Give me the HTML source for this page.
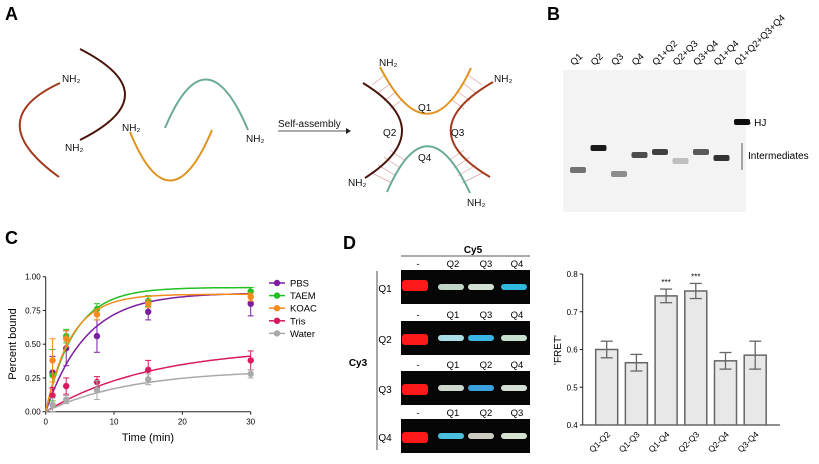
<!DOCTYPE html>
<html><head><meta charset="utf-8">
<style>
body{margin:0;background:#fff;}
svg{display:block;font-family:"Liberation Sans",Arial,sans-serif;}
</style></head>
<body>
<svg id="fig" width="819" height="464" viewBox="0 0 819 464">
<!-- Panel A -->
<g>
<text x="5" y="20" font-size="18" font-weight="bold">A</text>
<path d="M59 177 Q-20 120 60 83" fill="none" stroke="#a3391b" stroke-width="2"/>
<path d="M80 49 Q170 95 80 140" fill="none" stroke="#4a140a" stroke-width="2"/>
<path d="M130 132 Q170 230 212 130" fill="none" stroke="#e0921e" stroke-width="2"/>
<path d="M165 128 Q206 30 248 130" fill="none" stroke="#6aab98" stroke-width="2"/>
<g font-size="10" fill="#111">
<text x="62" y="82">NH₂</text><text x="65" y="151">NH₂</text><text x="122" y="131">NH₂</text><text x="246" y="142">NH₂</text>
<text x="278" y="127" font-size="10">Self-assembly</text>
</g>
<line x1="278" y1="131" x2="346" y2="131" stroke="#222" stroke-width="0.8"/>
<path d="M346 128 L351 131 L346 134 Z" fill="#222"/>
<g stroke="#d9a0a0" stroke-width="0.7">
<line x1="372" y1="85" x2="385" y2="75"/><line x1="378" y1="93" x2="391" y2="83"/><line x1="384" y1="101" x2="397" y2="91"/><line x1="390" y1="109" x2="403" y2="99"/>
<line x1="482" y1="85" x2="468" y2="75"/><line x1="476" y1="93" x2="463" y2="83"/><line x1="470" y1="101" x2="457" y2="91"/><line x1="464" y1="109" x2="451" y2="99"/>
<line x1="372" y1="173" x2="392" y2="183"/><line x1="378" y1="165" x2="396" y2="176"/><line x1="384" y1="157" x2="400" y2="168"/><line x1="390" y1="150" x2="404" y2="160"/>
<line x1="482" y1="173" x2="462" y2="183"/><line x1="476" y1="165" x2="458" y2="176"/><line x1="470" y1="157" x2="454" y2="168"/><line x1="464" y1="150" x2="450" y2="160"/>
</g>
<path d="M380 67 Q428 160 471 68" fill="none" stroke="#e0921e" stroke-width="2"/>
<path d="M363 83 Q440 130 365 178" fill="none" stroke="#4a140a" stroke-width="2"/>
<path d="M493 82 Q410 130 490 177" fill="none" stroke="#a3391b" stroke-width="2"/>
<path d="M387 192 Q427 100 470 193" fill="none" stroke="#6aab98" stroke-width="2"/>
<g font-size="10" fill="#111">
<text x="418" y="111">Q1</text><text x="383" y="136">Q2</text><text x="451" y="136">Q3</text><text x="418" y="161">Q4</text>
<text x="379" y="66">NH₂</text><text x="494" y="82">NH₂</text><text x="348" y="186">NH₂</text><text x="467" y="206">NH₂</text>
</g>
</g>
<!-- Panel B -->
<g>
<text x="547" y="20" font-size="18" font-weight="bold">B</text>
<rect x="563" y="70" width="183" height="142" fill="#f3f3f3"/>
<g id="gelB"></g>
<text x="748" y="126" font-size="10">- HJ</text>
<line x1="742" y1="143" x2="742" y2="170" stroke="#333" stroke-width="0.8"/>
<text x="748" y="159" font-size="10">Intermediates</text>
</g>
<!-- Panel C -->
<g>
<text x="5" y="244" font-size="18" font-weight="bold">C</text>
<g id="chartC"></g>
</g>
<!-- Panel D -->
<g>
<text x="343" y="249" font-size="18" font-weight="bold">D</text>
<text x="473" y="253" font-size="10" font-weight="bold" text-anchor="middle">Cy5</text>
<line x1="401" y1="256" x2="530" y2="256" stroke="#222" stroke-width="0.8"/>
<line x1="377" y1="271" x2="377" y2="450" stroke="#222" stroke-width="0.8"/>
<text x="358" y="366" font-size="10" font-weight="bold" text-anchor="middle">Cy3</text>
<g id="gelD"></g>
<g id="chartD"></g>
</g>
</svg>
<script>
const NS="http://www.w3.org/2000/svg";
function mk(tag,attrs,parent,txt){const e=document.createElementNS(NS,tag);for(const k in attrs)e.setAttribute(k,attrs[k]);if(txt!==undefined)e.textContent=txt;parent.appendChild(e);return e;}

// ---- Panel B gel ----
const laneLabels=["Q1","Q2","Q3","Q4","Q1+Q2","Q2+Q3","Q3+Q4","Q1+Q4","Q1+Q2+Q3+Q4"];
const bandY=[170,148,174,155,152,161,152,158,122];
const bandDark=[0.55,0.9,0.45,0.7,0.75,0.25,0.65,0.8,0.95];
const gB=document.getElementById('gelB');
laneLabels.forEach((l,i)=>{
  const cx=578+i*20.5;
  const t=mk('text',{x:cx-4,y:66,'font-size':9.5,transform:`rotate(-45 ${cx-4} 66)`},gB,l);
  
  
  const g=Math.round(255*(1-bandDark[i]));
  const b=mk('rect',{x:cx-8,y:bandY[i]-3,width:16,height:6,rx:2,fill:`rgb(${g},${g},${g})`},gB);
  
  
});

// ---- Panel C ----
const times=[1,3,7.5,15,30];
const seriesNames=["PBS","TAEM","KOAC","Tris","Water"];
const seriesColors=["#7b1fa2","#22c022","#f28c1e","#d81b60","#a9a9a9"];
const pbsVals=[0.29,0.47,0.56,0.74,0.80];
const taemVals=[0.27,0.56,0.76,0.82,0.89];
const koacVals=[0.38,0.54,0.72,0.80,0.85];
const trisVals=[0.12,0.19,0.22,0.31,0.38];
const waterVals=[0.05,0.09,0.16,0.24,0.28];
const pbsErr=[0.12,0.13,0.12,0.06,0.09];
const taemErr=[0.19,0.05,0.04,0.04,0.03];
const koacErr=[0.16,0.06,0.04,0.03,0.03];
const trisErr=[0.06,0.06,0.04,0.07,0.07];
const waterErr=[0.05,0.03,0.07,0.04,0.03];
const fitPlateau=[0.88,0.92,0.87,0.48,0.31];
const fitRate=[0.17,0.24,0.27,0.065,0.08];
const cYTicks=["0.00","0.25","0.50","0.75","1.00"];
const cXTicks=[0,10,20,30];
const vals=[pbsVals,taemVals,koacVals,trisVals,waterVals];
const errs=[pbsErr,taemErr,koacErr,trisErr,waterErr];
const cx0=45.7,cx1=250.7,cy0=411.7,cy1=276.7;
const xC=t=>cx0+(t/30)*(cx1-cx0);
const yC=v=>cy0-(v/1)*(cy0-cy1);
const gC=document.getElementById('chartC');
mk('line',{x1:cx0,y1:cy1,x2:cx0,y2:cy0,stroke:'#222','stroke-width':1},gC);
mk('line',{x1:cx0,y1:cy0,x2:cx1,y2:cy0,stroke:'#222','stroke-width':1},gC);
cYTicks.forEach(s=>{const y=yC(parseFloat(s));mk('line',{x1:cx0-3,y1:y,x2:cx0,y2:y,stroke:'#222'},gC);
  const t=mk('text',{x:cx0-5,y:y+3,'font-size':8,'text-anchor':'end'},gC,s);
  });
cXTicks.forEach(v=>{const x=xC(v);mk('line',{x1:x,y1:cy0,x2:x,y2:cy0+3,stroke:'#222'},gC);
  const t=mk('text',{x:x,y:cy0+13,'font-size':8,'text-anchor':'middle'},gC,v);
  });
const xt=mk('text',{x:148,y:441,'font-size':11,'text-anchor':'middle'},gC,'Time (min)');

const yt=mk('text',{x:16,y:344,'font-size':11,'text-anchor':'middle',transform:'rotate(-90 16 344)'},gC,'Percent bound');

seriesNames.forEach((n,i)=>{
  const c=seriesColors[i];
  let d='';for(let t=0;t<=30;t+=0.25){d+=(t?'L':'M')+xC(t).toFixed(1)+' '+yC(fitPlateau[i]*(1-Math.exp(-fitRate[i]*t))).toFixed(1);}
  const p=mk('path',{d:d,fill:'none',stroke:c,'stroke-width':1.5},gC);
  
  times.forEach((t,j)=>{
    const x=xC(t),v=vals[i][j],e=errs[i][j];
    mk('line',{x1:x,y1:yC(v-e),x2:x,y2:yC(v+e),stroke:c,'stroke-width':1},gC);
    mk('line',{x1:x-3,y1:yC(v-e),x2:x+3,y2:yC(v-e),stroke:c,'stroke-width':1},gC);
    mk('line',{x1:x-3,y1:yC(v+e),x2:x+3,y2:yC(v+e),stroke:c,'stroke-width':1},gC);
    const pt=mk('circle',{cx:x,cy:yC(v),r:3.2,fill:c},gC);
    
  });
  const ly=283+i*12.6;
  const le=mk('g',{},gC);
  
  mk('line',{x1:269,y1:ly,x2:285,y2:ly,stroke:c,'stroke-width':1.5},le);
  mk('circle',{cx:277,cy:ly,r:3.2,fill:c},le);
  mk('text',{x:290,y:ly+3.5,'font-size':9.5},le,n);
});

// ---- Panel D gel ----
const rowLabels=["Q1","Q2","Q3","Q4"];
const colLabels=[["-","Q2","Q3","Q4"],["-","Q1","Q3","Q4"],["-","Q1","Q2","Q4"],["-","Q1","Q2","Q3"]];
const bandColors=[["#ff1a1a","#cfe6d6","#e6f2e6","#33c8f0"],["#ff1a1a","#b8f0f8","#40c4f8","#d8f4e0"],["#ff1a1a","#e0e8e0","#40b0f0","#e8f2e8"],["#ff1a1a","#50d0f0","#dcdcd0","#e8f4e0"]];
const rowTop=[270,321,371,419];
const gD=document.getElementById('gelD');
rowLabels.forEach((r,i)=>{
  const top=rowTop[i];
  const blk=mk('rect',{x:401,y:top,width:129,height:34,fill:'#060606'},gD);
  
  mk('text',{x:385,y:top+22,'font-size':10,'text-anchor':'middle'},gD,r);
  const lx=[415,451,481,514];
  const tx=[418,453,486,517];
  colLabels[i].forEach((c,j)=>{
    mk('text',{x:tx[j],y:top-3,'font-size':9.5,'text-anchor':'middle'},gD,c);
    const big=j===0;
    const bd=mk('rect',{x:lx[j]-13,y:top+(big?10:14)+(i>0&&big?3:0),width:26,height:big?11:6,rx:3,fill:bandColors[i][j],opacity:big?1:0.92},gD);
    
  });
});

// ---- Panel D bar chart ----
const barCats=["Q1-Q2","Q1-Q3","Q1-Q4","Q2-Q3","Q2-Q4","Q3-Q4"];
const barVals=[0.600,0.565,0.742,0.755,0.570,0.585];
const barErrs=[0.022,0.022,0.018,0.020,0.022,0.037];
const barSig=["","","***","***","",""];
const dYTicks=["0.4","0.5","0.6","0.7","0.8"];
const dx0=582.7,dx1=780,dy0=425,dy1=274;
const yD=v=>dy0-(v-0.4)/0.4*(dy0-dy1);
const xD=i=>dx0+24+i*29.7;
const gDc=document.getElementById('chartD');
mk('line',{x1:dx0,y1:dy1,x2:dx0,y2:dy0,stroke:'#222','stroke-width':1},gDc);
mk('line',{x1:dx0,y1:dy0,x2:dx1,y2:dy0,stroke:'#222','stroke-width':1},gDc);
dYTicks.forEach(s=>{const y=yD(parseFloat(s));mk('line',{x1:dx0-3,y1:y,x2:dx0,y2:y,stroke:'#222'},gDc);
  const t=mk('text',{x:dx0-5,y:y+3,'font-size':8,'text-anchor':'end'},gDc,s);
  });
const fy=mk('text',{x:561,y:350,'font-size':10,'text-anchor':'middle',transform:'rotate(-90 561 350)'},gDc,"'FRET'");

barCats.forEach((c,i)=>{
  const x=xD(i),v=barVals[i],e=barErrs[i];
  const b=mk('rect',{x:x-11,y:yD(v),width:22,height:dy0-yD(v),fill:'#e8e8e8',stroke:'#666','stroke-width':1.5},gDc);
  
  mk('line',{x1:x,y1:yD(v-e),x2:x,y2:yD(v+e),stroke:'#666','stroke-width':1.3},gDc);
  mk('line',{x1:x-6,y1:yD(v-e),x2:x+6,y2:yD(v-e),stroke:'#666','stroke-width':1.3},gDc);
  mk('line',{x1:x-6,y1:yD(v+e),x2:x+6,y2:yD(v+e),stroke:'#666','stroke-width':1.3},gDc);
  if(barSig[i]) mk('text',{x:x,y:yD(v+e)-4,'font-size':8,'text-anchor':'middle'},gDc,barSig[i]);
  const t=mk('text',{x:x+4,y:dy0+10,'font-size':8.5,'text-anchor':'end',transform:`rotate(-45 ${x+4} ${dy0+10})`},gDc,c);
  
});
</script>
</body></html>
